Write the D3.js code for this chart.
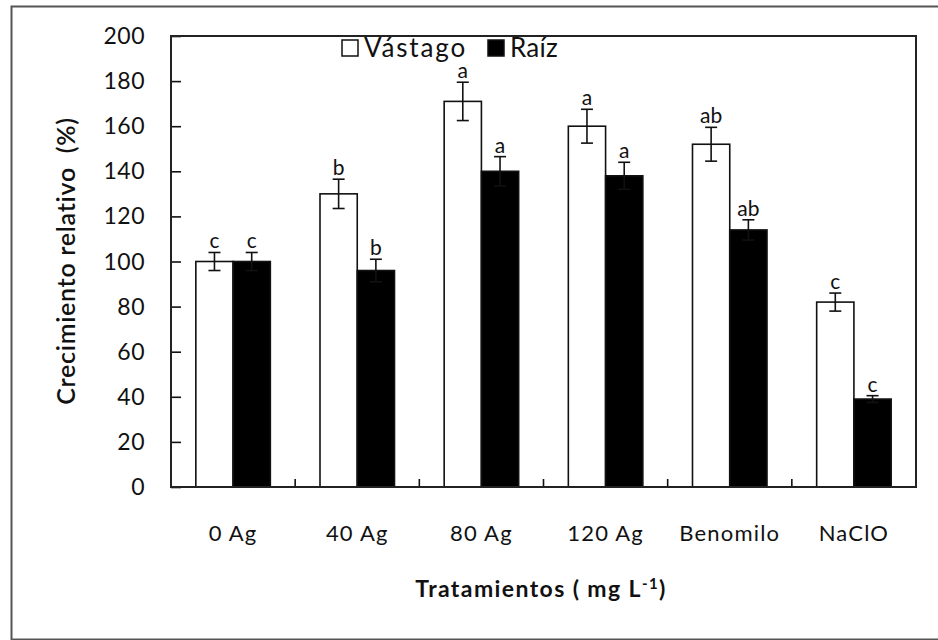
<!DOCTYPE html>
<html>
<head>
<meta charset="utf-8">
<script src="https://cdn.jsdelivr.net/npm/d3@7"></script>
<style>
  html, body { margin: 0; padding: 0; background: #fff; }
  svg { display: block; }
  text { font-family: Lato, "Noto Sans", sans-serif; fill: #111; }
</style>
</head>
<body>
<svg id="chart" width="938" height="640"></svg>
<script>
// Relative growth (%) by treatment, shoot vs root
const categories = ["0 Ag", "40 Ag", "80 Ag", "120 Ag", "Benomilo", "NaClO"];
const seriesNames = ["Vástago", "Raíz"];
const vastago = [100, 130, 171, 160, 152, 82];
const raiz = [100, 96, 140, 138, 114, 39];
const vastagoErr = [4, 6.5, 8.5, 7.5, 7.5, 4];
const raizErr = [4, 5, 6.5, 6, 4.5, 1.5];
const vastagoLetters = ["c", "b", "a", "a", "ab", "c"];
const raizLetters = ["c", "b", "a", "a", "ab", "c"];
const yTicks = [0, 20, 40, 60, 80, 100, 120, 140, 160, 180, 200];

const svg = d3.select("#chart");

// spread a text element's letters so it spans the given width
function spanTo(sel, width) {
  sel.each(function () {
    const n = this.getNumberOfChars();
    const w = this.getComputedTextLength();
    if (n > 1) d3.select(this).attr("letter-spacing", Math.max(0, (width - w) / n));
  });
}

// outer frame
svg.append("rect")
  .attr("x", 11.5).attr("y", 6.5)
  .attr("width", 940).attr("height", 633)
  .attr("fill", "none").attr("stroke", "#555").attr("stroke-width", 2);

const m = { left: 171, right: 916, top: 36, bottom: 487 };

const x = d3.scaleBand().domain(categories).range([m.left, m.right]).paddingInner(0.4).paddingOuter(0.2);
const x0 = d3.scaleBand().domain(categories).range([m.left, m.right]);
const sub = d3.scaleBand().domain(seriesNames).range([0, x.bandwidth()]);
const y = d3.scaleLinear().domain([0, 200]).range([m.bottom, m.top]);

const rows = categories.map((c, i) => ({
  cat: c,
  bars: [
    { s: seriesNames[0], v: vastago[i], e: vastagoErr[i], l: vastagoLetters[i], fill: "#fff" },
    { s: seriesNames[1], v: raiz[i], e: raizErr[i], l: raizLetters[i], fill: "#000" }
  ]
}));

const g = svg.append("g");

// bars
const grp = g.selectAll("g.grp").data(rows).join("g")
  .attr("class", "grp")
  .attr("transform", d => `translate(${x0(d.cat) + x0.bandwidth() / 2 - x.bandwidth() / 2},0)`);

grp.selectAll("rect").data(d => d.bars).join("rect")
  .attr("x", d => sub(d.s))
  .attr("y", d => y(d.v))
  .attr("width", sub.bandwidth())
  .attr("height", d => y(0) - y(d.v))
  .attr("fill", d => d.fill)
  .attr("stroke", "#111").attr("stroke-width", 1.6);

// error bars with significance letters
const eb = grp.selectAll("g.err").data(d => d.bars).join("g").attr("class", "err")
  .attr("transform", d => `translate(${sub(d.s) + sub.bandwidth() / 2},0)`);
eb.append("line")
  .attr("x1", 0).attr("x2", 0)
  .attr("y1", d => y(d.v + d.e)).attr("y2", d => y(d.v - d.e))
  .attr("stroke", "#111").attr("stroke-width", 1.6);
eb.append("line")
  .attr("x1", -6).attr("x2", 6)
  .attr("y1", d => y(d.v + d.e)).attr("y2", d => y(d.v + d.e))
  .attr("stroke", "#111").attr("stroke-width", 1.6);
eb.append("line")
  .attr("x1", -6).attr("x2", 6)
  .attr("y1", d => y(d.v - d.e)).attr("y2", d => y(d.v - d.e))
  .attr("stroke", "#111").attr("stroke-width", 1.6);
eb.append("text")
  .attr("x", 0).attr("y", d => y(d.v + d.e) - 4)
  .attr("text-anchor", "middle")
  .attr("font-size", 21)
  .text(d => d.l);

// y axis (ticks point inward)
const yAxis = d3.axisRight(y).tickValues(yTicks).tickSize(10).tickFormat("");
const ya = svg.append("g").attr("transform", `translate(${m.left},0)`).call(yAxis);
ya.select(".domain").remove();
ya.selectAll("line").attr("stroke", "#111").attr("stroke-width", 1.6);
svg.append("g").selectAll("text").data(yTicks).join("text")
  .attr("x", 145).attr("y", d => y(d) + 8)
  .attr("text-anchor", "end")
  .attr("font-size", 23)
  .attr("letter-spacing", 0.5)
  .text(d => d);

// x axis: category boundaries ticked upward
const xa = svg.append("g").attr("transform", `translate(0,${m.bottom})`);
xa.selectAll("line").data(categories.slice(1)).join("line")
  .attr("x1", d => x0(d)).attr("x2", d => x0(d))
  .attr("y1", 0).attr("y2", -8)
  .attr("stroke", "#111").attr("stroke-width", 1.6);
xa.selectAll("text").data(categories).join("text")
  .attr("x", d => x0(d) + x0.bandwidth() / 2)
  .attr("y", 54)
  .attr("text-anchor", "middle")
  .attr("font-size", 22)
  .attr("letter-spacing", 1.2)
  .text(d => d);

// plot frame
svg.append("rect")
  .attr("x", m.left).attr("y", m.top)
  .attr("width", m.right - m.left).attr("height", m.bottom - m.top)
  .attr("fill", "none").attr("stroke", "#222").attr("stroke-width", 2);

// axis titles
const yt = svg.append("text")
  .attr("transform", `translate(75,${(117 + 405) / 2}) rotate(-90)`)
  .attr("text-anchor", "middle")
  .attr("font-size", 25)
  .attr("font-weight", 600)
  .attr("xml:space", "preserve")
  .text("Crecimiento relativo  (%)");
spanTo(yt, 288);

const xt = svg.append("text")
  .attr("x", 541).attr("y", 597)
  .attr("text-anchor", "middle")
  .attr("font-size", 23)
  .attr("font-weight", 700)
  .attr("letter-spacing", 1.4);
xt.append("tspan").text("Tratamientos ( mg L");
xt.append("tspan").attr("dy", -8).attr("font-size", 15).text("-1");
xt.append("tspan").attr("dy", 8).text(")");

// legend
const leg = svg.append("g");
const legItems = [
  { name: seriesNames[0], fill: "#fff", x: 342, w: 103 },
  { name: seriesNames[1], fill: "#000", x: 488, w: 48 }
];
leg.selectAll("rect").data(legItems).join("rect")
  .attr("x", d => d.x).attr("y", 40)
  .attr("width", 16).attr("height", 16)
  .attr("fill", d => d.fill).attr("stroke", "#111").attr("stroke-width", 1.5);
leg.selectAll("text").data(legItems).join("text")
  .attr("x", d => d.x + 22).attr("y", 57)
  .attr("font-size", 26)
  .text(d => d.name)
  .each(function (d) { spanTo(d3.select(this), d.w); });
</script>
</body>
</html>
